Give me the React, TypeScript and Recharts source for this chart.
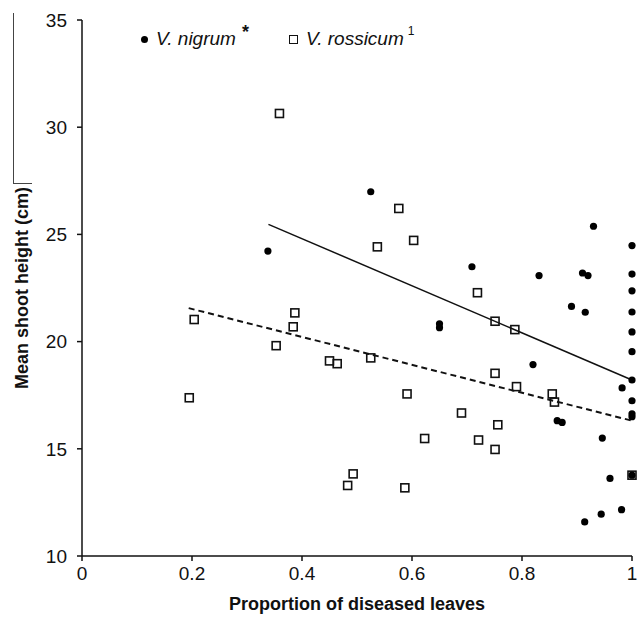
import React from "react";
import { ScatterChart, Scatter, XAxis, YAxis } from "recharts";

// proportion of diseased leaves vs mean shoot height (cm)
const nigrumX = [
  0.338, 0.525, 0.65, 0.65, 0.709, 0.82, 0.831, 0.864, 0.873, 0.89, 0.91,
  0.914, 0.915, 0.92, 0.93, 0.944, 0.946, 0.96, 0.981, 0.982,
  1, 1, 1, 1, 1, 1, 1, 1, 1, 1, 1,
];
const nigrumY = [
  24.22, 26.99, 20.83, 20.65, 23.49, 18.93, 23.08, 16.31, 16.23, 21.64, 23.2,
  11.59, 21.37, 23.08, 25.38, 11.95, 15.5, 13.62, 12.16, 17.84,
  24.48, 23.15, 22.37, 21.38, 20.45, 19.53, 18.21, 17.24, 16.63, 16.5, 13.77,
];

const rossicumX = [
  0.195, 0.204, 0.353, 0.359, 0.384, 0.387, 0.45, 0.464, 0.483, 0.493, 0.525,
  0.537, 0.576, 0.587, 0.591, 0.603, 0.623, 0.69, 0.719, 0.721, 0.751, 0.751,
  0.751, 0.756, 0.787, 0.79, 0.855, 0.859, 1,
];
const rossicumY = [
  17.38, 21.03, 19.81, 30.64, 20.69, 21.34, 19.1, 18.97, 13.29, 13.83, 19.24,
  24.42, 26.21, 13.18, 17.56, 24.72, 15.48, 16.67, 22.28, 15.41, 20.95, 18.52,
  14.97, 16.12, 20.56, 17.9, 17.56, 17.18, 13.77,
];

// fitted lines, end points
const nigrumFitX = [0.339, 1];
const nigrumFitY = [25.47, 18.21];
const rossicumFitX = [0.194, 1];
const rossicumFitY = [21.56, 16.31];

const xTicks = [0, 0.2, 0.4, 0.6, 0.8, 1];
const yTicks = [10, 15, 20, 25, 30, 35];

const pairs = (xs: number[], ys: number[]) =>
  xs.map((x, i) => ({ x, y: ys[i] }));

const nigrum = pairs(nigrumX, nigrumY);
const rossicum = pairs(rossicumX, rossicumY);
const nigrumFit = pairs(nigrumFitX, nigrumFitY);
const rossicumFit = pairs(rossicumFitX, rossicumFitY);

const FONT = '"Liberation Sans", Arial, sans-serif';
const INK = "#111";

const Dot = (props: any) => (
  <circle cx={props.cx} cy={props.cy} r={3.6} fill="#000" />
);

const Square = (props: any) => (
  <rect
    x={props.cx - 4}
    y={props.cy - 4}
    width={8}
    height={8}
    fill="none"
    stroke={INK}
    strokeWidth={1.6}
  />
);

const Nothing = () => <g />;

function LegendBox() {
  return (
    <div
      style={{
        position: "absolute",
        left: 141,
        top: 28,
        display: "flex",
        alignItems: "center",
        fontFamily: FONT,
        fontSize: 19,
        color: INK,
        whiteSpace: "nowrap",
      }}
    >
      <span
        style={{
          width: 7,
          height: 7,
          borderRadius: "50%",
          background: "#000",
          marginRight: 8,
        }}
      />
      <span style={{ fontStyle: "italic" }}>V. nigrum</span>
      <span
        style={{
          fontSize: 18,
          fontWeight: 700,
          marginLeft: 6,
          alignSelf: "flex-start",
          marginTop: -6,
        }}
      >
        *
      </span>
      <span
        style={{
          width: 7,
          height: 7,
          border: "1.6px solid #111",
          marginLeft: 40,
          marginRight: 8,
        }}
      />
      <span style={{ fontStyle: "italic" }}>V. rossicum</span>
      <span
        style={{
          fontSize: 12,
          marginLeft: 4,
          alignSelf: "flex-start",
          marginTop: -4,
        }}
      >
        1
      </span>
    </div>
  );
}

export default function App() {
  return (
    <div
      style={{
        position: "fixed",
        left: 0,
        top: 0,
        width: 638,
        height: 621,
        background: "#fff",
      }}
    >
      <div
        style={{
          position: "absolute",
          left: 13,
          top: 13,
          width: 1,
          height: 170,
          background: "#444",
        }}
      />
      <div
        style={{
          position: "absolute",
          left: 13,
          top: 183,
          width: 19,
          height: 1,
          background: "#444",
        }}
      />
      <ScatterChart
        width={638}
        height={621}
        margin={{ top: 20, right: 6, bottom: 0, left: 8 }}
      >
        <XAxis
          type="number"
          dataKey="x"
          domain={[0, 1]}
          ticks={xTicks}
          height={65}
          tickSize={5}
          tickMargin={6}
          stroke={INK}
          strokeWidth={1.5}
          tick={{ fill: INK, fontSize: 19, fontFamily: FONT }}
          label={{
            value: "Proportion of diseased leaves",
            position: "insideBottom",
            offset: 11,
            style: { fill: INK, fontSize: 18, fontWeight: 700, fontFamily: FONT },
          }}
        />
        <YAxis
          type="number"
          dataKey="y"
          domain={[10, 35]}
          ticks={yTicks}
          width={74}
          tickSize={5}
          tickMargin={10}
          stroke={INK}
          strokeWidth={1.5}
          tick={{ fill: INK, fontSize: 19, fontFamily: FONT }}
          label={{
            value: "Mean shoot height (cm)",
            angle: -90,
            position: "insideLeft",
            offset: 14,
            style: {
              textAnchor: "middle",
              fill: INK,
              fontSize: 18,
              fontWeight: 700,
              fontFamily: FONT,
            },
          }}
        />
        <Scatter
          data={nigrumFit}
          line={{ stroke: INK, strokeWidth: 1.5 }}
          shape={Nothing}
          legendType="none"
          isAnimationActive={false}
        />
        <Scatter
          data={rossicumFit}
          line={{ stroke: INK, strokeWidth: 2, strokeDasharray: "6 4" }}
          shape={Nothing}
          legendType="none"
          isAnimationActive={false}
        />
        <Scatter
          name="V. rossicum"
          data={rossicum}
          shape={Square}
          isAnimationActive={false}
        />
        <Scatter
          name="V. nigrum"
          data={nigrum}
          shape={Dot}
          isAnimationActive={false}
        />
      </ScatterChart>
      <LegendBox />
    </div>
  );
}
